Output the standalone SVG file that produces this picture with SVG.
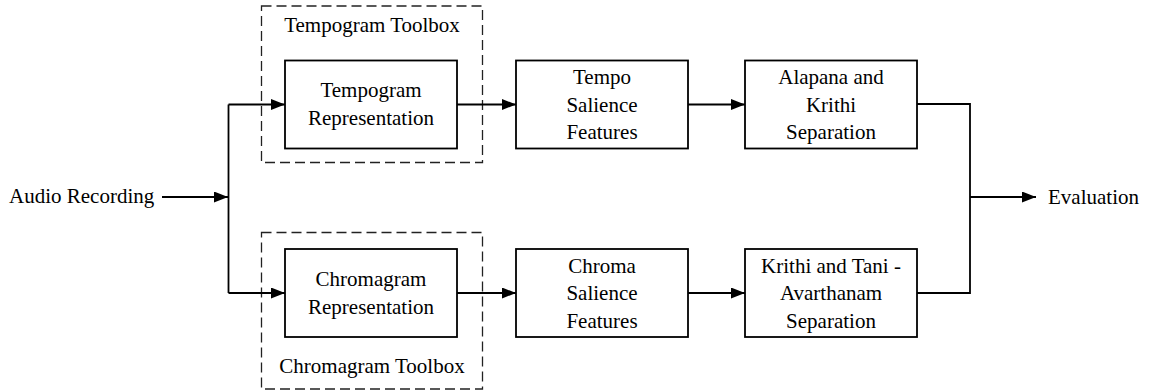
<svg xmlns="http://www.w3.org/2000/svg" width="1152" height="391" viewBox="0 0 1152 391">
  <style>
    .box { fill: #ffffff; stroke: #000000; stroke-width: 1.8; }
    .toolbox { fill: none; stroke: #222222; stroke-width: 1.3; stroke-dasharray: 10 5; }
    .wire { fill: none; stroke: #000000; stroke-width: 1.8; }
    text { font-family: "Liberation Serif", "Times New Roman", serif; font-size: 21px; fill: #000000; }
    .c { text-anchor: middle; }
  </style>
  <defs>
    <marker id="arrow" viewBox="0 0 14 11" refX="14" refY="5.5" markerWidth="14" markerHeight="11" markerUnits="userSpaceOnUse" orient="auto">
      <path d="M0,0 L14,5.5 L0,11 Z" fill="#000000"/>
    </marker>
  </defs>

  <rect width="1152" height="391" fill="#ffffff"/>

  <!-- dashed toolbox frames -->
  <g id="tempogram-toolbox">
    <rect class="toolbox" x="261.5" y="6" width="221" height="156.5"/>
    <text class="c" x="372" y="32">Tempogram Toolbox</text>
  </g>
  <g id="chromagram-toolbox">
    <rect class="toolbox" x="261.5" y="232.5" width="221" height="156.5"/>
    <text class="c" x="372" y="373">Chromagram Toolbox</text>
  </g>

  <!-- connectors -->
  <g id="connectors">
    <path class="wire" d="M162,197 L228,197" marker-end="url(#arrow)"/>
    <path class="wire" d="M228.5,104.5 L228.5,293"/>
    <path class="wire" d="M228.5,104.5 L285,104.5" marker-end="url(#arrow)"/>
    <path class="wire" d="M228.5,293 L285,293" marker-end="url(#arrow)"/>
    <path class="wire" d="M457,104.5 L516,104.5" marker-end="url(#arrow)"/>
    <path class="wire" d="M457,293 L516,293" marker-end="url(#arrow)"/>
    <path class="wire" d="M688,104.5 L745,104.5" marker-end="url(#arrow)"/>
    <path class="wire" d="M688,293 L745,293" marker-end="url(#arrow)"/>
    <path class="wire" d="M917,104 L970,104 L970,293 L917,293"/>
    <path class="wire" d="M970,197 L1036,197" marker-end="url(#arrow)"/>
  </g>

  <!-- input / output labels -->
  <g id="audio-recording">
    <text x="9" y="203">Audio Recording</text>
  </g>
  <g id="evaluation">
    <text x="1048" y="204">Evaluation</text>
  </g>

  <!-- upper path -->
  <g id="tempogram-representation">
    <rect class="box" x="285" y="60.5" width="172" height="88"/>
    <text class="c" x="371" y="97">Tempogram</text>
    <text class="c" x="371" y="124.5">Representation</text>
  </g>
  <g id="tempo-salience-features">
    <rect class="box" x="516" y="60.5" width="172" height="88"/>
    <text class="c" x="602" y="84">Tempo</text>
    <text class="c" x="602" y="111.5">Salience</text>
    <text class="c" x="602" y="139">Features</text>
  </g>
  <g id="alapana-krithi-separation">
    <rect class="box" x="745" y="60.5" width="172" height="88"/>
    <text class="c" x="831" y="84">Alapana and</text>
    <text class="c" x="831" y="111.5">Krithi</text>
    <text class="c" x="831" y="139">Separation</text>
  </g>

  <!-- lower path -->
  <g id="chromagram-representation">
    <rect class="box" x="285" y="249" width="172" height="88"/>
    <text class="c" x="371" y="286">Chromagram</text>
    <text class="c" x="371" y="313.5">Representation</text>
  </g>
  <g id="chroma-salience-features">
    <rect class="box" x="516" y="249" width="172" height="88"/>
    <text class="c" x="602" y="272.5">Chroma</text>
    <text class="c" x="602" y="300">Salience</text>
    <text class="c" x="602" y="327.5">Features</text>
  </g>
  <g id="krithi-tani-avarthanam-separation">
    <rect class="box" x="745" y="249" width="172" height="88"/>
    <text class="c" x="831" y="272.5">Krithi and Tani -</text>
    <text class="c" x="831" y="300">Avarthanam</text>
    <text class="c" x="831" y="327.5">Separation</text>
  </g>
</svg>
